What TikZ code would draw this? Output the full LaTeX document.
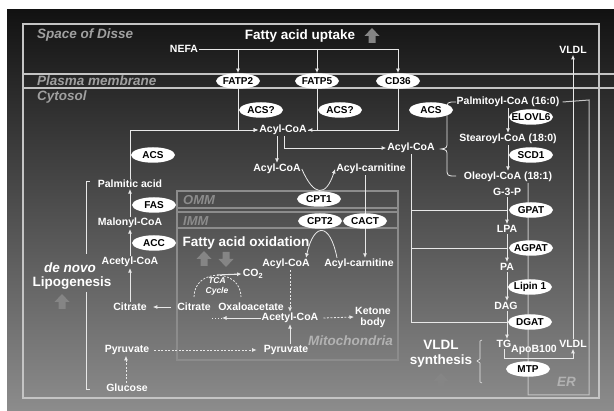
\documentclass[tikz,border=0pt]{standalone}
\usepackage{fontspec}
\setmainfont{Liberation Sans}
\usetikzlibrary{shapes.geometric,arrows.meta,positioning,calc}

\definecolor{framegray}{HTML}{C4C4C4}
\definecolor{wiregray}{HTML}{E8E8E8}
\definecolor{labelgray}{HTML}{A0A0A0}
\definecolor{mitogray}{HTML}{8C8C8C}
\definecolor{fatgray}{HTML}{858585}

\pgfdeclarelayer{bg}
\pgfdeclarelayer{wires}
\pgfsetlayers{bg,wires,main}

\tikzset{
  fat up/.pic={\fill[fatgray] (-3.5,7) -- (-3.5,0) -- (-7.5,0) -- (0,-8) -- (7.5,0) -- (3.5,0) -- (3.5,7) -- cycle;},
  fat down/.pic={\fill[fatgray] (-3.5,-7) -- (-3.5,0) -- (-7.5,0) -- (0,8) -- (7.5,0) -- (3.5,0) -- (3.5,-7) -- cycle;}
}

\begin{document}
\begin{tikzpicture}[x=1pt, y=-1pt,
  lbl/.style={text=white, font=\bfseries\fontsize{10.5}{11}\selectfont, inner sep=1pt},
  big/.style={text=white, font=\bfseries\fontsize{13.5}{15}\selectfont, inner sep=1pt},
  region/.style={text=labelgray, font=\bfseries\itshape\fontsize{13.5}{15}\selectfont,
    inner sep=0pt, anchor=west},
  enz/.style={ellipse, fill=white, text=black, font=\bfseries\fontsize{10}{11}\selectfont,
    minimum width=44pt, minimum height=15.5pt, inner xsep=-4pt, inner ysep=0.5pt},
  wire/.style={wiregray, line width=0.8pt},
  arr/.style={wire, -{Latex[length=4.5pt,width=4pt]}},
  dasharr/.style={arr, dash pattern=on 2pt off 1.5pt}
]
\useasboundingbox (0,0) rectangle (614,411);

% background and compartments
\begin{pgfonlayer}{bg}
\fill[white] (0,0) rectangle (614,411);
\shade[top color=black!93, middle color=black!72, bottom color=black!45] (7,10) rectangle (614,411);
\draw[framegray, line width=1.2pt] (23,24) rectangle (599,398);
\draw[framegray, line width=1.2pt] (23,74) -- (614,74) (23,88) -- (614,88);
\draw[mitogray, line width=1.5pt] (177,191) rectangle (398,360);
\draw[mitogray, line width=1.5pt] (177,208) -- (398,208) (177,212) -- (398,212)
  (177,228) -- (398,228);
\end{pgfonlayer}

\node[region] (disse) at (37,35) {Space of Disse};
\node[region] (plasma) at (37,81) {Plasma membrane};
\node[region] (cyto) at (37,97) {Cytosol};
\node[region, text=mitogray, font=\bfseries\itshape\fontsize{13}{14}\selectfont] (omm) at (183,200) {OMM};
\node[region, text=mitogray, font=\bfseries\itshape\fontsize{13}{14}\selectfont] (imm) at (183,221) {IMM};
\node[region, text=black!30] (mito) at (308,341) {Mitochondria};
\node[region, text=black!30] (er) at (557,382) {ER};

% uptake
\node[big] (uptake) at (300,36) {Fatty acid uptake};
\pic at (372,36) {fat up};
\node[lbl] (nefa) at (184,49) {NEFA};
\node[enz] (fatp2) at (238,81) {FATP2};
\node[enz] (fatp5) at (317,81) {FATP5};
\node[enz] (cd36) at (398,81) {CD36};
\node[enz] (acsq1) at (261,110) {ACS?};
\node[enz] (acsq2) at (340,110) {ACS?};
\node[enz] (acs1) at (431,110) {ACS};
\node[lbl] (acyl1) at (283,130) {Acyl-CoA};
\node[lbl] (acyl2) at (277,169) {Acyl-CoA};
\node[lbl] (acylc1) at (371,169) {Acyl-carnitine};
\node[lbl] (acyl3) at (411,148) {Acyl-CoA};
\node[lbl] (vldl1) at (573,50) {VLDL};

% mitochondria
\node[enz] (cpt1) at (319,199) {CPT1};
\node[enz] (cpt2) at (320,221) {CPT2};
\node[enz] (cact) at (365,221) {CACT};
\node[big] (fao) at (246,243) {Fatty acid oxidation};
\pic at (204,259) {fat up};
\pic at (226,259) {fat down};
\node[lbl] (acylm) at (286,264) {Acyl-CoA};
\node[lbl] (acylcm) at (359,264) {Acyl-carnitine};
\node[lbl, font=\bfseries\itshape\fontsize{8.5}{10}\selectfont, align=center] (tca) at (217,286) {TCA\\Cycle};
\node[lbl] (co2) at (253,274) {CO\textsubscript{2}};
\node[lbl] (citm) at (194,307) {Citrate};
\node[lbl] (oaa) at (251,307) {Oxaloacetate};
\node[lbl] (acetm) at (290,318) {Acetyl-CoA};
\node[lbl, align=center] (ketone) at (373,317) {Ketone\\body};
\node[lbl] (pyrm) at (286,350) {Pyruvate};

% de novo lipogenesis
\node[enz] (acs2) at (153,155) {ACS};
\node[lbl] (palmitic) at (130,184) {Palmitic acid};
\node[enz] (fas) at (154,205) {FAS};
\node[lbl] (malonyl) at (130,223) {Malonyl-CoA};
\node[enz] (acc) at (154,243) {ACC};
\node[lbl] (acetyl) at (130,262) {Acetyl-CoA};
\node[lbl] (citrate) at (130,307) {Citrate};
\node[lbl] (pyr) at (127,350) {Pyruvate};
\node[lbl] (glucose) at (127,388) {Glucose};
\node[big, font=\bfseries\itshape\fontsize{13.5}{15}\selectfont] (denovo) at (70,268) {de novo};
\node[big] (lipo) at (72,283) {Lipogenesis};
\pic at (62,302) {fat up};

% ER pathway
\node[lbl] (palmc) at (508,102) {Palmitoyl-CoA (16:0)};
\node[enz] (elovl6) at (531,117) {ELOVL6};
\node[lbl] (stearc) at (508,139) {Stearoyl-CoA (18:0)};
\node[enz] (scd1) at (531,155) {SCD1};
\node[lbl] (oleo) at (508,177) {Oleoyl-CoA (18:1)};
\node[lbl] (g3p) at (507,192) {G-3-P};
\node[enz] (gpat) at (531,210) {GPAT};
\node[lbl] (lpa) at (507,229) {LPA};
\node[enz] (agpat) at (531,248) {AGPAT};
\node[lbl] (pa) at (507,267) {PA};
\node[enz] (lipin) at (530,287) {Lipin 1};
\node[lbl] (dag) at (506,306) {DAG};
\node[enz] (dgat) at (530,322) {DGAT};
\node[lbl] (tg) at (504,344) {TG};
\node[lbl] (apob) at (534,350) {ApoB100};
\node[lbl] (vldl2) at (573,344) {VLDL};
\node[enz] (mtp) at (528,369) {MTP};
\node[big, align=center] (vsynth) at (441,354) {VLDL\\synthesis};
\pic at (441,381) {fat up};

\begin{pgfonlayer}{wires}
% ER membrane
\draw[framegray, line width=1pt] ([xshift=2pt]palmc.east) -- (589,100) -- (589,395)
  -- (528,395) -- (528,183);

% uptake
\draw[arr] (nefa.east) -| (cd36.north);
\draw[arr] (nefa.east -| fatp2) -- (fatp2.north);
\draw[arr] (nefa.east -| fatp5) -- (fatp5.north);
\draw[arr] (fatp2.south) |- (acyl1.west);
\draw[arr] (palmitic.north) |- (acyl1.west);
\draw[arr] (fatp5.south) |- (acyl1.east);
\draw[wire] (cd36.south) |- (acyl1.east);
\draw[arr] (acyl1.south -| acyl2) -- (acyl2.north);
\draw[arr] ([xshift=1pt]acyl1.south) |- (acyl3.west);

% carnitine shuttle
\draw[arr] (acyl2.east) .. controls (314,197) and (326,197) .. (acylc1.west);
\draw[arr] (acylc1.south -| cact) -- (acylcm.north -| cact);
\draw[arr] ([xshift=-22pt]acylcm.north) .. controls (330,222) and (314,222) .. ([xshift=20pt]acylm.north);

% oxidation
\coordinate (tcal) at (194,297);
\coordinate (tcar) at (241,297);
\coordinate (tcatop) at (217,275);
\coordinate (oaain) at (222,318);
\draw[wire, dash pattern=on 2pt off 1.5pt] (tcal) .. controls (194,268) and (241,268) .. (tcar);
\draw[arr, line width=1.1pt] (tcatop) -- (co2.west);
\draw[dasharr] (acylm.south -| acetm) -- (acetm.north);
\draw[dasharr] ([xshift=4pt]acetm.east) -- (ketone.west);
\draw[arr] (acetm.west) -- (oaain);
\draw[wire, dash pattern=on 1.5pt off 1.5pt] (oaain) -- ++(-12,0);
\draw[arr] (pyrm.north -| acetm) -- (acetm.south);

% lipogenesis
\draw[arr] ([xshift=-5pt]citm.west) -- ([xshift=5pt]citrate.east);
\draw[arr] (citrate.north) -- (citrate.north |- acetyl.south);
\draw[arr] (acetyl.north) -- (acetyl.north |- malonyl.south);
\draw[arr] (malonyl.north) -- (malonyl.north |- palmitic.south);
\draw[dasharr] ([xshift=4pt]pyr.east) -- ([xshift=-6pt]pyrm.west);
\draw[dasharr] ([xshift=-1pt]glucose.north) -- ([xshift=-1pt]glucose.north |- pyr.south);
\draw[wire] (90,181) -- (86,181) -- (86,254);
\draw[wire] (86,292) -- (86,389) -- (90,389);

% triglyceride synthesis
\draw[wire] (456,102) .. controls (447,102) .. (447,110) -- (447,142)
  .. controls (447,148) .. (441,149) .. controls (447,150) .. (447,156) -- (447,168)
  .. controls (447,176) .. (456,176);
\draw[arr] (palmc.south) -- (stearc.north);
\draw[arr] (stearc.south) -- (oleo.north);
\draw[arr] (g3p.south) -- (lpa.north);
\draw[arr] (lpa.south) -- (pa.north);
\draw[arr] (pa.south) -- (pa.south |- dag.north);
\draw[arr] (dag.south -| pa) -- (tg.north -| pa);
\draw[wire] (acyl3.south) |- (dgat.west -| pa);
\draw[wire] (acyl3.south |- gpat) -- (gpat.west -| g3p);
\draw[wire] (acyl3.south |- agpat) -- (agpat.west -| g3p);
\draw[arr] (tg.south) -- ++(0,9) -| (vldl2.south);
\draw[arr] (vldl2.north) -- (vldl2.north |- vldl1.south);
\draw[wire, line width=0.6pt] (482,340) -- (480,341) -- (480,359) -- (477,361)
  -- (480,363) -- (480,382) -- (482,383);
\end{pgfonlayer}
\end{tikzpicture}
\end{document}
